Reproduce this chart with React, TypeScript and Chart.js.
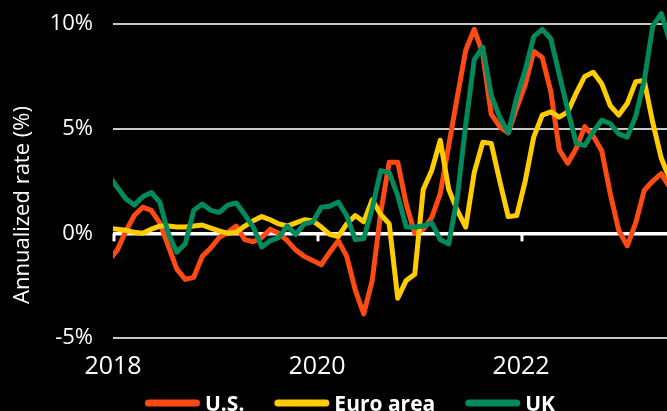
import React, { useEffect, useRef } from 'react';
import { Chart, registerables } from 'chart.js';

Chart.register(...registerables);

// Mid-month readings, first point is Dec 2017 (clipped at the left edge)
const seriesNames = ['U.S.', 'Euro area', 'UK'];

const usValues = [
  -1.3, -0.8, 0.1, 0.85, 1.25, 1.1, 0.5, -0.6, -1.7, -2.2, -2.1, -1.1, -0.7,
  -0.2, 0.05, 0.35, -0.3, -0.4, -0.2, 0.2, 0.0, -0.35, -0.8, -1.1, -1.3,
  -1.5, -0.9, -0.35, -1.1, -2.7, -3.85, -2.25, 1.0, 3.4, 3.4, 1.4, 0.0,
  0.2, 0.75, 1.9, 4.2, 6.5, 8.75, 9.75, 8.6, 5.7, 5.1, 4.8, 6.0, 7.1, 8.7,
  8.4, 6.8, 4.0, 3.35, 4.05, 5.1, 4.65, 3.95, 1.9, 0.15, -0.6, 0.5, 2.05,
  2.5, 2.85, 2.2,
];

const euroValues = [
  0.25, 0.2, 0.15, 0.05, 0.0, 0.2, 0.35, 0.35, 0.3, 0.3, 0.35, 0.4, 0.25,
  0.12, 0.0, 0.05, 0.35, 0.6, 0.8, 0.65, 0.45, 0.35, 0.5, 0.65, 0.6, 0.3,
  -0.05, -0.15, 0.45, 0.85, 0.55, 1.6, 0.9, 0.45, -3.1, -2.25, -1.95, 2.1,
  3.0, 4.45, 2.1, 1.1, 0.3, 2.9, 4.35, 4.3, 2.5, 0.8, 0.85, 2.5, 4.6, 5.65,
  5.8, 5.55, 5.8, 6.7, 7.5, 7.7, 7.15, 6.1, 5.65, 6.2, 7.25, 7.3, 5.3, 3.6,
  2.6,
];

const ukValues = [
  2.75, 2.2, 1.65, 1.35, 1.75, 1.95, 1.5, 0.0, -0.9, -0.5, 1.1, 1.4, 1.1,
  1.0, 1.35, 1.45, 0.9, 0.3, -0.65, -0.35, -0.2, 0.35, -0.05, 0.45, 0.55,
  1.25, 1.3, 1.5, 0.85, -0.3, -0.25, 1.2, 3.0, 2.9, 1.8, 0.3, 0.3, 0.35,
  0.5, -0.3, -0.5, 1.7, 5.2, 8.3, 8.9, 6.6, 5.55, 4.8, 6.5, 7.8, 9.4, 9.75,
  9.3, 7.6, 5.9, 4.3, 4.2, 4.85, 5.4, 5.25, 4.75, 4.6, 5.6, 7.3, 9.9, 10.5,
  9.2,
];

const yTickValues = [-5, 0, 5, 10];
const yearTickMonths = [0, 24, 48];
const yearLabels = ['2018', '2020', '2022'];
const seriesColors = ['#FF4A14', '#FFCC00', '#008A5C'];
const yTitle = 'Annualized rate (%)';

const FONT = '"Open Sans", "DejaVu Sans", sans-serif';

export default function App() {
  const ref = useRef<HTMLCanvasElement>(null);

  useEffect(() => {
    document.body.style.margin = '0';
    document.body.style.background = '#000';
    const canvas = ref.current;
    if (!canvas) return;

    const xs = usValues.map((_, i) => i - 0.5);
    const allSeries = [usValues, euroValues, ukValues];
    const datasets = allSeries.map((vals, k) => ({
      label: seriesNames[k],
      data: vals.map((v, i) => ({ x: xs[i], y: v })),
      borderColor: seriesColors[k],
      backgroundColor: seriesColors[k],
      borderWidth: 5,
      pointRadius: 0,
      tension: 0,
      borderJoinStyle: 'round' as const,
      borderCapStyle: 'round' as const,
      order: 3 - k,
      clip: { left: 0, right: 0, top: false, bottom: 0 } as any,
    }));

    const decor = {
      id: 'decor',
      beforeDatasetsDraw(chart: any) {
        const { ctx, scales } = chart;
        const x = scales.x;
        const y = scales.y;
        const y0 = y.getPixelForValue(0);
        ctx.save();
        ctx.strokeStyle = '#ffffff';
        ctx.lineWidth = 3;
        yearTickMonths.forEach((m) => {
          const px = x.getPixelForValue(m);
          ctx.beginPath();
          ctx.moveTo(px + 1, y0);
          ctx.lineTo(px + 1, y0 + 8);
          ctx.stroke();
        });
        ctx.restore();
      },
      afterDraw(chart: any) {
        const { ctx, chartArea } = chart;
        ctx.save();
        // y-axis title
        ctx.fillStyle = '#ffffff';
        ctx.font = `22px ${FONT}`;
        ctx.textAlign = 'center';
        ctx.textBaseline = 'middle';
        ctx.translate(23, 205);
        ctx.rotate(-Math.PI / 2);
        ctx.fillText(yTitle, 0, 0);
        ctx.restore();

        // legend
        ctx.save();
        ctx.font = `bold 21px ${FONT}`;
        const swatch = 55;
        const gap = 5;
        const between = 30;
        const widths = seriesNames.map((n) => ctx.measureText(n).width);
        const total =
          widths.reduce((a, b) => a + b, 0) +
          seriesNames.length * (swatch + gap) +
          (seriesNames.length - 1) * between;
        const center = (chartArea.left + chartArea.right) / 2 - 40;
        let cx = center - total / 2;
        const ly = 403;
        seriesNames.forEach((n, k) => {
          ctx.strokeStyle = seriesColors[k];
          ctx.lineWidth = 7;
          ctx.lineCap = 'round';
          ctx.beginPath();
          ctx.moveTo(cx + 3.5, ly);
          ctx.lineTo(cx + swatch - 3.5, ly);
          ctx.stroke();
          ctx.fillStyle = '#ffffff';
          ctx.textAlign = 'left';
          ctx.textBaseline = 'alphabetic';
          ctx.fillText(n, cx + swatch + gap, ly + 7.5);
          cx += swatch + gap + widths[k] + between;
        });
        ctx.restore();
      },
    };

    const chart = new Chart(canvas, {
      type: 'line',
      data: { datasets },
      options: {
        responsive: false,
        animation: false,
        layout: { padding: 0 },
        plugins: { legend: { display: false }, tooltip: { enabled: false } },
        scales: {
          x: {
            type: 'linear',
            min: 0,
            max: 65.18,
            afterBuildTicks: (s: any) => {
              s.ticks = yearTickMonths.map((v) => ({ value: v }));
            },
            afterFit: (s: any) => {
              s.height = 73;
              s.paddingLeft = 0;
              s.paddingRight = 0;
            },
            grid: { display: false, drawTicks: false },
            border: { display: false },
            ticks: {
              color: '#ffffff',
              font: { family: FONT, size: 25 },
              padding: 14,
              maxRotation: 0,
              autoSkip: false,
              callback: (v: any) => yearLabels[yearTickMonths.indexOf(Number(v))],
            },
          },
          y: {
            min: -5,
            max: 11.15,
            afterBuildTicks: (s: any) => {
              s.ticks = yTickValues.map((v) => ({ value: v }));
            },
            afterFit: (s: any) => {
              s.width = 113;
              s.paddingTop = 0;
              s.paddingBottom = 0;
            },
            grid: {
              color: (c: any) => (c.tick && c.tick.value === 0 ? '#ffffff' : '#c8c8c8'),
              lineWidth: (c: any) => (c.tick && c.tick.value === 0 ? 3.5 : 2),
              drawTicks: false,
            },
            border: { display: false },
            ticks: {
              color: '#ffffff',
              font: { family: FONT, size: 22 },
              padding: 20,
              callback: (v: any) => `${v}%`,
            },
          },
        },
      },
      plugins: [decor],
    } as any);

    return () => chart.destroy();
  }, []);

  return (
    <div style={{ width: 667, height: 411, background: '#000' }}>
      <canvas ref={ref} width={667} height={411} style={{ display: 'block' }} />
    </div>
  );
}
